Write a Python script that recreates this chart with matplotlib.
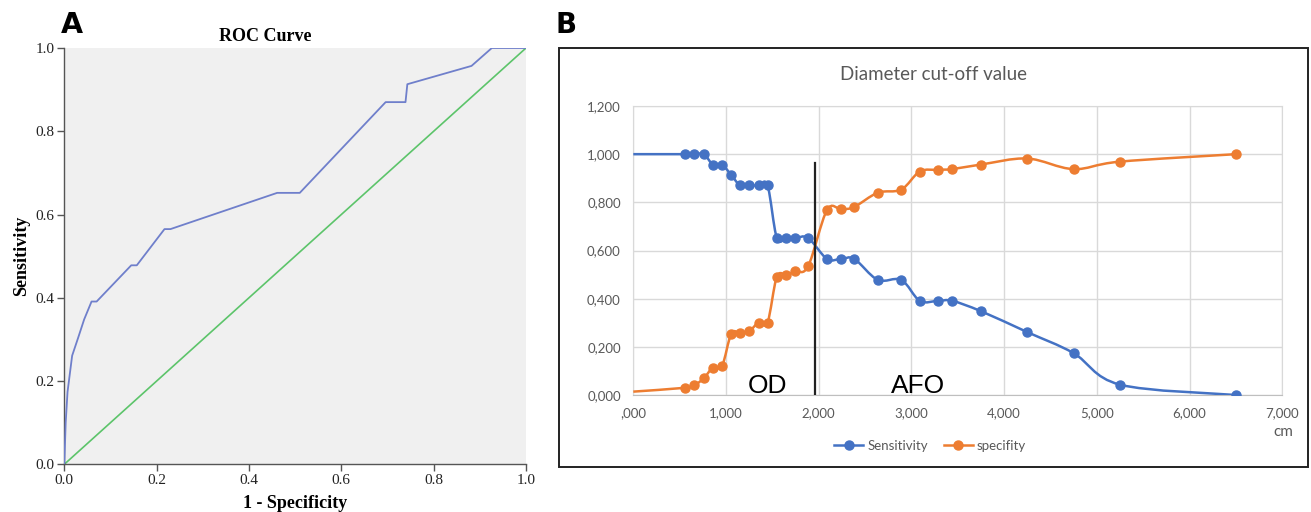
import numpy as np
import matplotlib
matplotlib.use("Agg")
import matplotlib.pyplot as plt
from matplotlib.path import Path
from matplotlib.patches import PathPatch, Rectangle
from matplotlib.lines import Line2D

# ---------------- data ----------------
# Panel A: ROC curve
roc_fpr = [0.0, 0.003, 0.007, 0.017, 0.030, 0.043, 0.059, 0.070, 0.145, 0.157,
           0.217, 0.230, 0.461, 0.510, 0.696, 0.739, 0.743, 0.882, 0.926, 1.0]
roc_tpr = [0.0, 0.100, 0.174, 0.261, 0.304, 0.348, 0.391, 0.391, 0.478, 0.478,
           0.565, 0.565, 0.652, 0.652, 0.870, 0.870, 0.913, 0.957, 1.0, 1.0]
ref_line = [0.0, 1.0]

# Panel B: cut-off values
cutoff = [0, 559, 658, 762, 858, 957, 1057, 1153, 1253, 1352, 1448, 1548, 1651,
          1747, 1886, 2089, 2242, 2384, 2637, 2890, 3090, 3290, 3440, 3750,
          4250, 4748, 5249, 6499]
sensitivity = [1.0, 1.0, 1.0, 1.0, 0.957, 0.957, 0.913, 0.870, 0.870, 0.870,
               0.870, 0.652, 0.652, 0.652, 0.652, 0.565, 0.565, 0.565, 0.478,
               0.478, 0.391, 0.391, 0.391, 0.348, 0.261, 0.174, 0.043, 0.0]
specifity = [0.014, 0.030, 0.040, 0.070, 0.114, 0.120, 0.255, 0.257, 0.266,
             0.301, 0.301, 0.490, 0.499, 0.513, 0.535, 0.768, 0.771, 0.781,
             0.840, 0.853, 0.928, 0.935, 0.938, 0.957, 0.982, 0.938, 0.969, 1.0]
threshold = 1961
threshold_top = 0.964
x_ticks = [0, 1000, 2000, 3000, 4000, 5000, 6000, 7000]
x_tick_labels = [",000", "1,000", "2,000", "3,000", "4,000", "5,000", "6,000", "7,000"]
y_ticks = [0.0, 0.2, 0.4, 0.6, 0.8, 1.0, 1.2]
y_tick_labels = ["0,000", "0,200", "0,400", "0,600", "0,800", "1,000", "1,200"]
roc_ticks = [0.0, 0.2, 0.4, 0.6, 0.8, 1.0]

W, H = 1311, 512
fig = plt.figure(figsize=(W / 100, H / 100), dpi=100)

def fx(px):
    return px / W

def fy(py):
    return 1 - py / H

# ---------------- Panel A ----------------
serif = "Liberation Serif"
axA = fig.add_axes([fx(64.3), fy(464.3), fx(526) - fx(64.3), fy(48) - fy(464.3)])
axA.set_facecolor("#F0F0F0")
axA.plot(ref_line, ref_line, color="#5CC46A", lw=1.2, zorder=2)
axA.plot(roc_fpr, roc_tpr, color="#6F7FCB", lw=1.3, zorder=3)
axA.set_xlim(0, 1)
axA.set_ylim(0, 1)
axA.set_xticks(roc_ticks)
axA.set_yticks(roc_ticks)
axA.set_xticklabels([f"{t:.1f}" for t in roc_ticks], fontfamily=serif, fontsize=11)
axA.set_yticklabels([f"{t:.1f}" for t in roc_ticks], fontfamily=serif, fontsize=11)
for s in ["top", "right"]:
    axA.spines[s].set_visible(False)
for s in ["left", "bottom"]:
    axA.spines[s].set_color("#555555")
    axA.spines[s].set_linewidth(1.0)
axA.tick_params(direction="out", length=5, width=1, color="#555555", labelcolor="#222222", pad=2)
axA.set_xlabel("1 - Specificity", fontfamily=serif, fontweight="bold", fontsize=13, labelpad=6)
axA.set_ylabel("Sensitivity", fontfamily=serif, fontweight="bold", fontsize=13, labelpad=4)
axA.text(0.435, 1.0 + 7 / 416, "ROC Curve", transform=axA.transAxes, ha="center",
         va="baseline", fontfamily=serif, fontweight="bold", fontsize=13)
fig.text(fx(61), fy(25), "A", ha="left", va="center", fontsize=20.5, fontweight="bold",
         fontfamily="DejaVu Sans")
fig.text(fx(556), fy(25), "B", ha="left", va="center", fontsize=20, fontweight="bold",
         fontfamily="DejaVu Sans")

# ---------------- Panel B ----------------
fig.patches.append(Rectangle((fx(559.3), fy(466.7)), fx(1308.3) - fx(559.3),
                             fy(47.7) - fy(466.7), transform=fig.transFigure,
                             fill=False, edgecolor="#222222", lw=1.4, zorder=0))

sansB = "Lato"
axB = fig.add_axes([fx(633.3), fy(395), fx(1282.3) - fx(633.3), fy(106) - fy(395)])
axB.set_xlim(0, 7000)
axB.set_ylim(0, 1.2)
axB.set_xticks(x_ticks)
axB.set_xticklabels(x_tick_labels)
axB.set_yticks(y_ticks)
axB.set_yticklabels(y_tick_labels)
axB.grid(True, color="#D9D9D9", lw=1.0)
axB.set_axisbelow(True)
for s in ["top", "right", "left"]:
    axB.spines[s].set_color("#D9D9D9")
axB.spines["bottom"].set_color("#BFBFBF")
axB.tick_params(length=0, labelsize=9.5, labelcolor="#595959", pad=9)
for lab in axB.get_xticklabels() + axB.get_yticklabels():
    lab.set_fontfamily(sansB)


def smooth_path(xs, ys):
    xs = np.asarray(xs, float)
    ys = np.asarray(ys, float)
    n = len(xs)
    verts = [(xs[0], ys[0])]
    codes = [Path.MOVETO]
    for i in range(n - 1):
        i0 = max(i - 1, 0)
        i3 = min(i + 2, n - 1)
        c1 = (xs[i] + (xs[i + 1] - xs[i0]) / 6, ys[i] + (ys[i + 1] - ys[i0]) / 6)
        c2 = (xs[i + 1] - (xs[i3] - xs[i]) / 6, ys[i + 1] - (ys[i3] - ys[i]) / 6)
        verts += [c1, c2, (xs[i + 1], ys[i + 1])]
        codes += [Path.CURVE4] * 3
    return Path(verts, codes)


blue = "#4472C4"
orange = "#ED7D31"
for yv, col in [(sensitivity, blue), (specifity, orange)]:
    axB.add_patch(PathPatch(smooth_path(cutoff, yv), fill=False, edgecolor=col,
                            lw=1.8, zorder=3, clip_on=True))
    axB.plot(cutoff[1:], yv[1:], ls="none", marker="o", ms=6.5, color=col, zorder=4)

axB.plot([threshold, threshold], [0, threshold_top], color="#222222", lw=1.6, zorder=5)
axB.text(1448, 0.008, "OD", ha="center", va="baseline", fontsize=19,
         fontfamily="Liberation Sans", color="black", zorder=6)
axB.text(3066, 0.008, "AFO", ha="center", va="baseline", fontsize=19,
         fontfamily="Liberation Sans", color="black", zorder=6)

fig.text(fx(933), fy(74), "Diameter cut-off value", ha="center", va="center",
         fontsize=13.5, color="#595959", fontfamily=sansB)
fig.text(fx(1283), fy(432), "cm", ha="center", va="center", fontsize=11,
         color="#595959", fontfamily=sansB)

handles = [Line2D([], [], color=blue, marker="o", ms=6.5, lw=1.8),
           Line2D([], [], color=orange, marker="o", ms=6.5, lw=1.8)]
leg = fig.legend(handles, ["Sensitivity", "specifity"], loc="center",
                 bbox_to_anchor=(fx(930), fy(446)), ncol=2, frameon=False,
                 handlelength=2.2, handletextpad=0.3, columnspacing=1.2,
                 prop={"family": sansB, "size": 9.5})
for t in leg.get_texts():
    t.set_color("#595959")

fig.savefig("out.png", dpi=100)
